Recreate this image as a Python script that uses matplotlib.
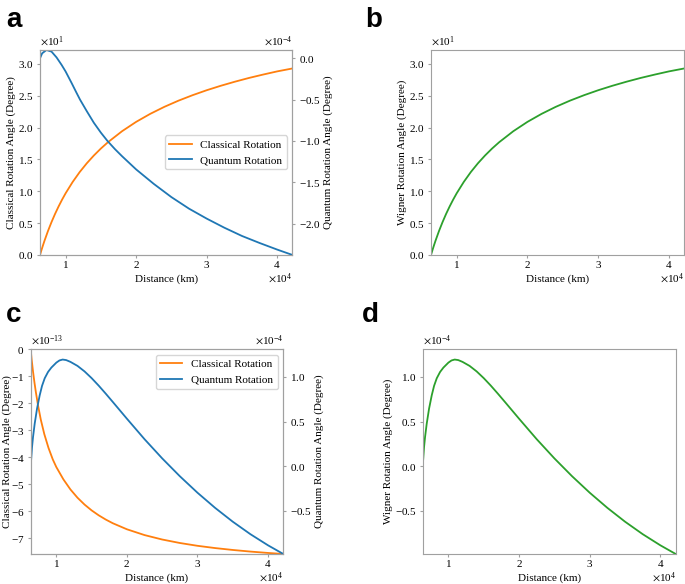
import matplotlib
matplotlib.use('Agg')
import matplotlib.pyplot as plt

# ---- data (distance in km, angles in degree) ----
# panel a: classical rotation
dist_a_cl = [6371, 6600, 6800, 7000, 7500, 8000, 8500, 9000, 9500, 10000, 11000,
             12000, 13000, 14000, 15000, 16000, 18000, 20000, 22000, 24000, 26000,
             28000, 30000, 32000, 34000, 36000, 38000, 40000, 42164]
classical_a = [0.0, 0.84, 1.54, 2.21, 3.76, 5.16, 6.44, 7.61, 8.69, 9.69, 11.47,
               13.03, 14.40, 15.62, 16.72, 17.71, 19.44, 20.91, 22.17, 23.27, 24.24,
               25.10, 25.88, 26.58, 27.22, 27.81, 28.34, 28.84, 29.30]

# panel a: quantum rotation
dist_a_q = [6371, 6678, 7295, 8007, 8719, 9430, 10000, 10854, 11500, 12041, 13000,
            14000, 15000, 15930, 17000, 18000, 20000, 22500, 25000, 27500, 30000,
            32500, 35000, 37500, 40000, 42164]
quantum_a = [0.0, 0.06e-4, 0.10e-4, 0.08e-4, 0.01e-4, -0.08e-4, -0.16e-4, -0.30e-4,
             -0.41e-4, -0.50e-4, -0.64e-4, -0.78e-4, -0.90e-4, -1.00e-4, -1.10e-4,
             -1.185e-4, -1.345e-4, -1.52e-4, -1.68e-4, -1.82e-4, -1.94e-4, -2.05e-4,
             -2.15e-4, -2.235e-4, -2.315e-4, -2.38e-4]

# panel b: Wigner rotation (looks the same as the classical curve)
dist_b = dist_a_cl
wigner_b = classical_a

# panel c: classical rotation
dist_c_cl = [6371, 6500, 6700, 6900, 7100, 7400, 7800, 8300, 8900, 9500, 10000,
             11000, 12000, 13000, 14000, 15000, 16000, 17000, 18000, 20000, 22500,
             25000, 27500, 30000, 32500, 35000, 37500, 40000, 42164]
classical_c = [0.0, -0.361e-13, -0.821e-13, -1.221e-13, -1.581e-13, -2.061e-13,
               -2.601e-13, -3.141e-13, -3.657e-13, -4.077e-13, -4.36e-13, -4.815e-13,
               -5.19e-13, -5.496e-13, -5.75e-13, -5.965e-13, -6.147e-13, -6.304e-13,
               -6.441e-13, -6.665e-13, -6.88e-13, -7.044e-13, -7.173e-13, -7.277e-13,
               -7.361e-13, -7.431e-13, -7.491e-13, -7.542e-13, -7.58e-13]

# panel c: quantum rotation
dist_c_q = [6371, 6560, 6702, 6938, 7269, 7648, 7979, 8357, 8830, 9302, 10011,
            10450, 10900, 11400, 12000, 13000, 14000, 15000, 16000, 17000, 18000,
            19000, 20000, 22500, 25000, 27500, 30000, 32500, 35000, 37500, 40000,
            42164]
quantum_c = [0.0, 0.213e-4, 0.326e-4, 0.476e-4, 0.644e-4, 0.794e-4, 0.90e-4,
             0.985e-4, 1.056e-4, 1.105e-4, 1.161e-4, 1.185e-4, 1.195e-4, 1.189e-4,
             1.169e-4, 1.124e-4, 1.062e-4, 0.987e-4, 0.903e-4, 0.813e-4, 0.720e-4,
             0.626e-4, 0.532e-4, 0.302e-4, 0.087e-4, -0.113e-4, -0.298e-4,
             -0.468e-4, -0.623e-4, -0.763e-4, -0.888e-4, -0.985e-4]

# panel d: Wigner rotation (looks the same as the quantum curve)
dist_d = dist_c_q
wigner_d = quantum_c

plt.rcParams['font.family'] = 'serif'
plt.rcParams['font.serif'] = ['Liberation Serif', 'DejaVu Serif']
plt.rcParams['mathtext.fontset'] = 'stix'
plt.rcParams['font.size'] = 8
plt.rcParams['axes.edgecolor'] = '#a0a0a0'
plt.rcParams['xtick.color'] = '#a0a0a0'
plt.rcParams['ytick.color'] = '#a0a0a0'
plt.rcParams['xtick.labelcolor'] = 'black'
plt.rcParams['ytick.labelcolor'] = 'black'
plt.rcParams['xtick.major.size'] = 2
plt.rcParams['ytick.major.size'] = 2.5
plt.rcParams['xtick.major.pad'] = 1
plt.rcParams['ytick.major.pad'] = 2
plt.rcParams['legend.fontsize'] = 8

ORANGE = '#ff7f0e'
BLUE = '#1f77b4'
GREEN = '#2ca02c'
LW = 1.3
XMIN, XMAX = 6371, 42164

fig = plt.figure(figsize=(6.85, 5.84), dpi=100)


def sci(ax, axis='both'):
    ax.ticklabel_format(style='sci', axis=axis, scilimits=(0, 0), useMathText=True)
    ax.xaxis.OFFSETTEXTPAD = 1


# Panel a
ax1 = fig.add_axes([0.0584, 0.5634, 0.3686, 0.3510])
l1, = ax1.plot(dist_a_cl, classical_a, color=ORANGE, lw=LW)
ax1.set_xlim(XMIN, XMAX)
ax1.set_ylim(0, 32.2)
ax1.set_xlabel('Distance (km)', labelpad=3)
ax1.set_ylabel('Classical Rotation Angle (Degree)', labelpad=2)
sci(ax1)
ax1r = ax1.twinx()
l2, = ax1r.plot(dist_a_q, quantum_a, color=BLUE, lw=LW)
ax1r.set_ylim(-2.38e-4, 0.10e-4)
ax1r.set_ylabel('Quantum Rotation Angle (Degree)', labelpad=2)
sci(ax1r, 'y')
ax1r.legend([l1, l2], ['Classical Rotation', 'Quantum Rotation'], loc='center right')

# Panel b
ax2 = fig.add_axes([0.6292, 0.5634, 0.3698, 0.3510])
ax2.plot(dist_b, wigner_b, color=GREEN, lw=LW)
ax2.set_xlim(XMIN, XMAX)
ax2.set_ylim(0, 32.2)
ax2.set_xlabel('Distance (km)', labelpad=3)
ax2.set_ylabel('Wigner Rotation Angle (Degree)', labelpad=2)
sci(ax2)

# Panel c
ax3 = fig.add_axes([0.0448, 0.0514, 0.3688, 0.3505])
l3, = ax3.plot(dist_c_cl, classical_c, color=ORANGE, lw=LW)
ax3.set_xlim(XMIN, XMAX)
ax3.set_ylim(-7.58e-13, 0)
ax3.set_xlabel('Distance (km)', labelpad=3)
ax3.set_ylabel('Classical Rotation Angle (Degree)', labelpad=-1)
sci(ax3)
ax3r = ax3.twinx()
l4, = ax3r.plot(dist_c_q, quantum_c, color=BLUE, lw=LW)
ax3r.set_ylim(-0.985e-4, 1.31e-4)
ax3r.set_ylabel('Quantum Rotation Angle (Degree)', labelpad=2)
sci(ax3r, 'y')
ax3r.legend([l3, l4], ['Classical Rotation', 'Quantum Rotation'], loc='upper right')

# Panel d
ax4 = fig.add_axes([0.6171, 0.0514, 0.3693, 0.3505])
ax4.plot(dist_d, wigner_d, color=GREEN, lw=LW)
ax4.set_xlim(XMIN, XMAX)
ax4.set_ylim(-0.985e-4, 1.31e-4)
ax4.set_xlabel('Distance (km)', labelpad=3)
ax4.set_ylabel('Wigner Rotation Angle (Degree)', labelpad=1)
sci(ax4)

# panel letters
for x, y, s in [(0.009, 0.9538, 'a'), (0.533, 0.9538, 'b'),
                (0.009, 0.4486, 'c'), (0.528, 0.4486, 'd')]:
    fig.text(x, y, s, fontsize=20, fontweight='bold', family='Liberation Sans',
             va='baseline', ha='left')

fig.savefig('out.png', dpi=100)
